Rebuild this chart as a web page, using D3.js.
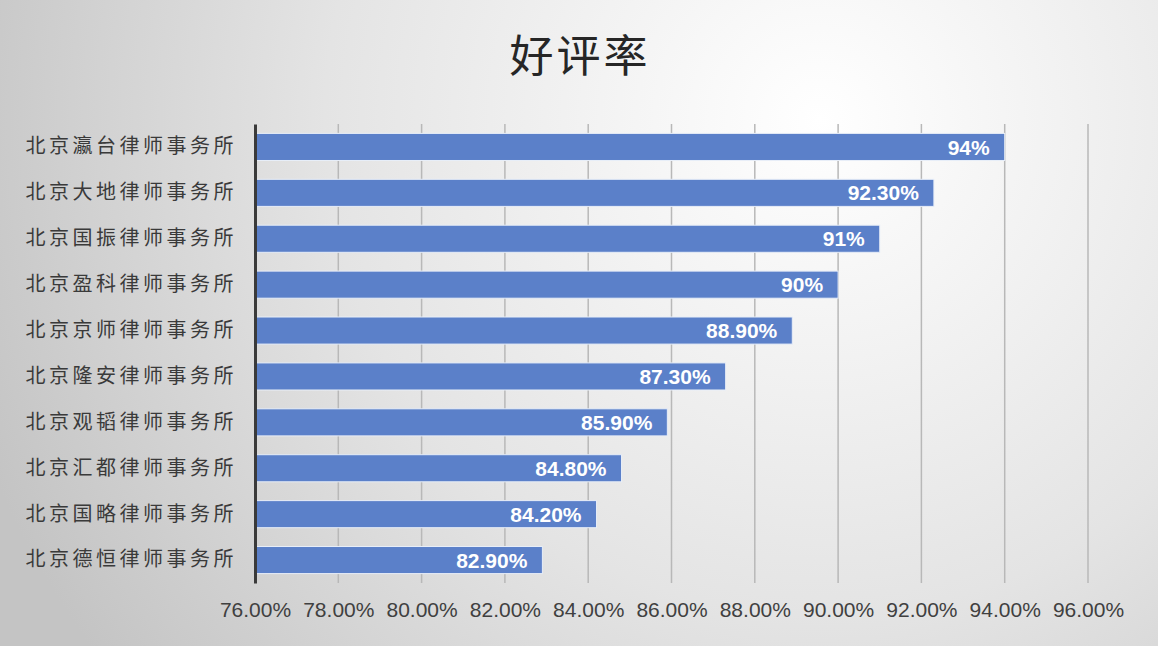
<!DOCTYPE html>
<html>
<head>
<meta charset="utf-8">
<script src="https://cdn.jsdelivr.net/npm/d3@7"></script>
<style>
  html, body { margin: 0; padding: 0; overflow: hidden; }
  svg { display: block; }
</style>
</head>
<body>
<svg id="chart"></svg>
<script>
// data
const firms = ['北京瀛台律师事务所', '北京大地律师事务所', '北京国振律师事务所', '北京盈科律师事务所', '北京京师律师事务所',
  '北京隆安律师事务所', '北京观韬律师事务所', '北京汇都律师事务所', '北京国略律师事务所', '北京德恒律师事务所'];
const rates = [94, 92.3, 91, 90, 88.9, 87.3, 85.9, 84.8, 84.2, 82.9];
const rateLabels = ['94%', '92.30%', '91%', '90%', '88.90%', '87.30%', '85.90%', '84.80%', '84.20%', '82.90%'];
const xTicks = [76, 78, 80, 82, 84, 86, 88, 90, 92, 94, 96];

const width = 1158;
const height = 646;
const plotLeft = 255, plotRight = 1088, plotTop = 124, plotBottom = 583;

const svg = d3.select('#chart')
  .attr('width', width)
  .attr('height', height);

// background gradient
const defs = svg.append('defs');
const grad = defs.append('radialGradient')
  .attr('id', 'bg')
  .attr('gradientUnits', 'userSpaceOnUse')
  .attr('cx', 820).attr('cy', 120).attr('r', 900);
grad.append('stop').attr('offset', '0%').attr('stop-color', '#ffffff');
grad.append('stop').attr('offset', '55%').attr('stop-color', '#e4e4e4');
grad.append('stop').attr('offset', '100%').attr('stop-color', '#c4c4c4');

svg.append('rect')
  .attr('width', width).attr('height', height)
  .attr('fill', 'url(#bg)');

// title
svg.append('text')
  .attr('x', 580).attr('y', 72)
  .attr('text-anchor', 'middle')
  .attr('font-family', '"Noto Sans CJK SC"')
  .attr('font-size', 44)
  .attr('letter-spacing', 3)
  .attr('fill', '#262626')
  .text('好评率');

// scales
const x = d3.scaleLinear().domain([76, 96]).range([plotLeft, plotRight]);
const y = d3.scaleBand().domain(firms).range([plotTop, plotBottom]).paddingInner(0.41).paddingOuter(0.205);

// gridlines
svg.append('g')
  .selectAll('line')
  .data(xTicks.slice(1))
  .enter()
  .append('line')
  .attr('x1', d => x(d)).attr('x2', d => x(d))
  .attr('y1', plotTop).attr('y2', plotBottom)
  .attr('stroke', '#b8b8b8')
  .attr('stroke-width', 1.5);

// bars
svg.append('g')
  .selectAll('rect')
  .data(firms)
  .enter()
  .append('rect')
  .attr('x', x(76))
  .attr('y', d => y(d))
  .attr('width', (d, i) => x(rates[i]) - x(76))
  .attr('height', y.bandwidth())
  .attr('fill', '#5b80c9')
  .attr('stroke', '#e8eef8')
  .attr('stroke-width', 1);

// value labels
svg.append('g')
  .selectAll('text')
  .data(firms)
  .enter()
  .append('text')
  .attr('x', (d, i) => x(rates[i]) - 15)
  .attr('y', d => y(d) + y.bandwidth() / 2)
  .attr('dy', '0.36em')
  .attr('text-anchor', 'end')
  .attr('font-family', '"Liberation Sans", Arial, sans-serif')
  .attr('font-size', 21)
  .attr('font-weight', 'bold')
  .attr('fill', '#ffffff')
  .text((d, i) => rateLabels[i]);

// y axis
const yAxis = svg.append('g')
  .attr('transform', `translate(${plotLeft},0)`)
  .call(d3.axisLeft(y).tickSize(0).tickPadding(18));
yAxis.select('.domain').attr('stroke', '#3a3a3a').attr('stroke-width', 3);
yAxis.selectAll('text')
  .attr('font-family', '"Noto Sans CJK SC"')
  .attr('font-size', 20)
  .attr('letter-spacing', 3.5)
  .attr('fill', '#3a3a3a');

// x axis labels
const xAxis = svg.append('g')
  .attr('transform', `translate(0,${plotBottom})`)
  .call(d3.axisBottom(x).tickValues(xTicks).tickSize(0).tickPadding(19).tickFormat(d => d.toFixed(2) + '%'));
xAxis.select('.domain').remove();
xAxis.selectAll('text')
  .attr('font-family', '"Liberation Sans", Arial, sans-serif')
  .attr('font-size', 21)
  .attr('fill', '#404040');
</script>
</body>
</html>
